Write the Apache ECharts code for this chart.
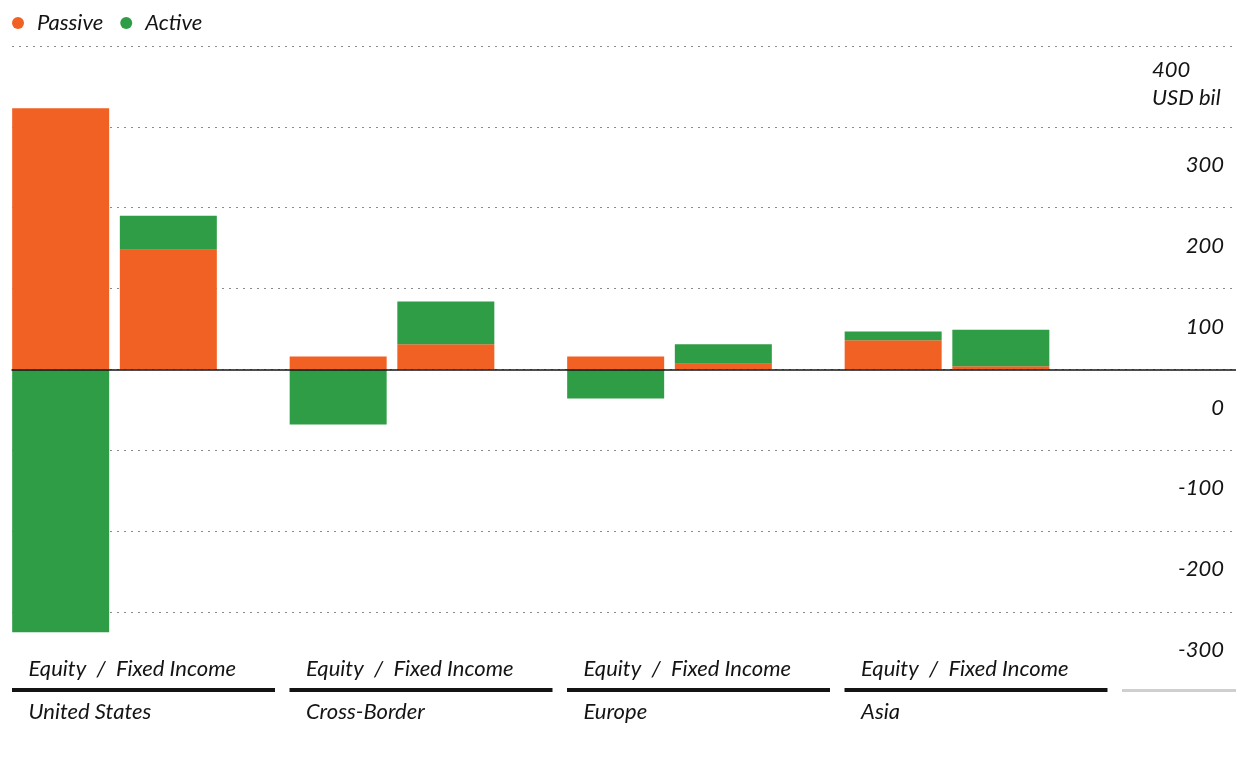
<!DOCTYPE html>
<html>
<head>
<meta charset="utf-8">
<script src="https://cdn.jsdelivr.net/npm/echarts@6/dist/echarts.min.js"></script>
<style>
  html, body { margin: 0; padding: 0; background: #fff; }
  #c { width: 1236px; height: 769px; }
</style>
</head>
<body>
<div id="c"></div>
<script>
// Net fund flows by region, USD bil
const regions = ['United States', 'Cross-Border', 'Europe', 'Asia'];
const equityPassive = [323, 16, 16, 36];
const equityActive = [-325, -68, -36, 11];
const fixedPassive = [148, 31, 7, 4];
const fixedActive = [42, 53, 24, 45];

const yMin = -300;
const yMax = 400;
const yStep = 100;
const unitLabel = 'USD bil';
const pairLabel = 'Equity  /  Fixed Income';

const ORANGE = '#F26124';
const GREEN = '#2F9D46';
const INK = '#141414';
const FONT = 'Lato, "Open Sans", sans-serif';
const FS = 22;

const chart = echarts.init(document.getElementById('c'), null, { renderer: 'canvas' });

const plotTop = 46;
const plotBottom = 157;
const labelDrop = 38;   // value labels sit below their gridline

const gridBase = { top: plotTop, bottom: plotBottom, containLabel: false, outerBoundsMode: 'none' };

const barSeries = (name, stack, data, color) => ({
  name, type: 'bar', xAxisIndex: 1, yAxisIndex: 1, stack, data,
  barWidth: 97, barGap: '11%', clip: false, itemStyle: { color }
});

const hiddenX = i => ({
  gridIndex: i, type: 'value', min: 0, max: 1, show: false
});

chart.setOption({
  animation: false,
  backgroundColor: '#fff',
  textStyle: { fontFamily: FONT },
  legend: {
    left: 7,
    top: 7,
    icon: 'circle',
    itemWidth: 12,
    itemHeight: 12,
    itemGap: 17,
    data: ['Passive', 'Active'],
    textStyle: { fontSize: FS, fontStyle: 'italic', color: INK, fontFamily: FONT, padding: [0, 0, 0, 8] }
  },
  grid: [
    // full-width grid: gridlines and zero line
    Object.assign({ left: 12, right: 0 }, gridBase),
    // bar grid: first and last region sit on the grid edges
    Object.assign({ left: 114.5, right: 289 }, gridBase),
    // value labels, same scale dropped below each gridline
    { left: 12, right: 0, top: plotTop + labelDrop, bottom: plotBottom - labelDrop, containLabel: false, outerBoundsMode: 'none' }
  ],
  xAxis: [
    {
      gridIndex: 0, type: 'value', min: 0, max: 1, z: 5,
      axisLine: { show: true, onZero: true, lineStyle: { color: INK, width: 1.5 } },
      axisTick: { show: false }, axisLabel: { show: false }, splitLine: { show: false }
    },
    { gridIndex: 1, type: 'category', data: regions, boundaryGap: false, show: false },
    hiddenX(2)
  ],
  yAxis: [
    {
      gridIndex: 0, type: 'value', position: 'right',
      min: yMin, max: yMax, interval: yStep,
      axisLine: { show: false }, axisTick: { show: false }, axisLabel: { show: false },
      splitLine: { show: true, lineStyle: { color: '#8a8a8a', type: [2, 5], width: 1 } }
    },
    { gridIndex: 1, type: 'value', min: yMin, max: yMax, interval: yStep, show: false },
    {
      gridIndex: 2, type: 'value', position: 'right',
      min: yMin, max: yMax, interval: yStep,
      axisLine: { show: false }, axisTick: { show: false }, splitLine: { show: false },
      axisLabel: {
        inside: true,
        margin: 12,
        showMinLabel: true,
        showMaxLabel: true,
        hideOverlap: false,
        fontSize: FS,
        fontStyle: 'italic',
        color: INK,
        fontFamily: FONT,
        verticalAlign: 'middle',
        lineHeight: 28,
        formatter: v => v === yMax ? '{u|' + v + '}\n{u|' + unitLabel + '}' : String(v),
        rich: {
          u: { width: 72, align: 'left', fontSize: FS, fontStyle: 'italic', lineHeight: 28, color: INK, fontFamily: FONT }
        }
      }
    }
  ],
  series: [
    barSeries('Passive', 'equity', equityPassive, ORANGE),
    barSeries('Active', 'equity', equityActive, GREEN),
    barSeries('Passive', 'fixed', fixedPassive, ORANGE),
    barSeries('Active', 'fixed', fixedActive, GREEN)
  ]
});

// Group captions and rules under each region, placed from the category scale
const centers = regions.map(r => chart.convertToPixel({ xAxisIndex: 1 }, r));
const band = centers[1] - centers[0];
const textStyle = { fontSize: FS, fontStyle: 'italic', fontFamily: FONT, fill: INK, verticalAlign: 'middle' };
const extras = [];
centers.forEach((c, i) => {
  extras.push({ type: 'text', x: c - 86, y: 669, style: Object.assign({ text: pairLabel }, textStyle) });
  extras.push({ type: 'rect', shape: { x: c - 102.5, y: 688, width: 263, height: 4 }, style: { fill: INK } });
  extras.push({ type: 'text', x: c - 86, y: 712, style: Object.assign({ text: regions[i] }, textStyle) });
});
const nextStart = centers[centers.length - 1] + band - 102.5;
extras.push({ type: 'rect', shape: { x: nextStart, y: 689, width: 1236 - nextStart, height: 3 }, style: { fill: '#cfcfcf' } });
chart.setOption({ graphic: extras });
</script>
</body>
</html>
